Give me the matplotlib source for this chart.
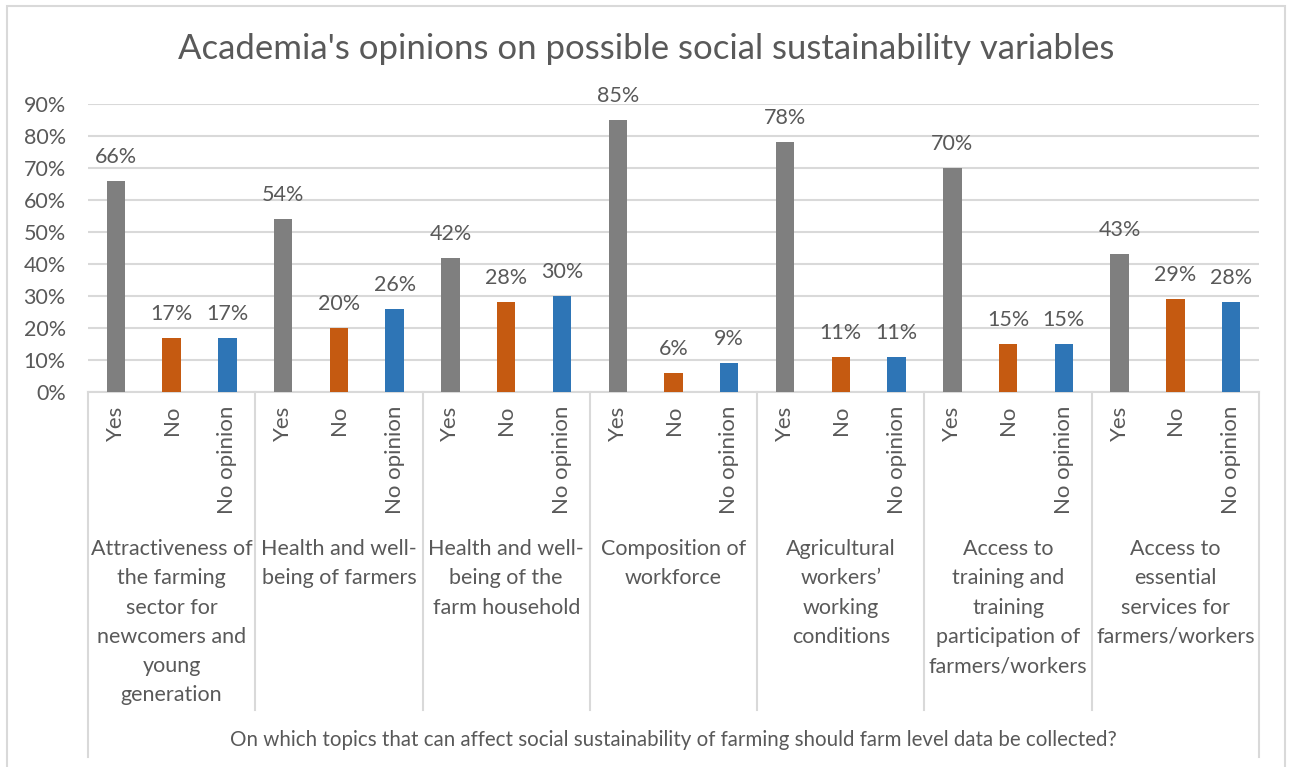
import matplotlib
matplotlib.use("Agg")
from matplotlib import pyplot as plt
from matplotlib import transforms
from matplotlib.patches import Rectangle

plt.rcParams['font.family'] = ['Lato', 'DejaVu Sans']

# data
title = "Academia's opinions on possible social sustainability variables"
axis_title = ("On which topics that can affect social sustainability of farming "
              "should farm level data be collected?")
topics = [
    "Attractiveness of\nthe farming\nsector for\nnewcomers and\nyoung\ngeneration",
    "Health and well-\nbeing of farmers",
    "Health and well-\nbeing of the\nfarm household",
    "Composition of\nworkforce",
    "Agricultural\nworkers\u2019\nworking\nconditions",
    "Access to\ntraining and\ntraining\nparticipation of\nfarmers/workers",
    "Access to\nessential\nservices for\nfarmers/workers",
]
answers = ["Yes", "No", "No opinion"]
yes_vals = [0.66, 0.54, 0.42, 0.85, 0.78, 0.70, 0.43]
no_vals = [0.17, 0.20, 0.28, 0.06, 0.11, 0.15, 0.29]
noop_vals = [0.17, 0.26, 0.30, 0.09, 0.11, 0.15, 0.28]

colors = ["#7f7f7f", "#c55a11", "#2e75b6"]
text_color = "#595959"
grid_color = "#d9d9d9"

W, H = 1296, 767
fig = plt.figure(figsize=(W / 100, H / 100), dpi=100)


def fy(py):
    return 1 - py / H


left, right, top, bottom = 88, 1259, 104, 392
ax = fig.add_axes([left / W, fy(bottom), (right - left) / W, (bottom - top) / H])

n_groups = len(topics)
series = [yes_vals, no_vals, noop_vals]
for k, vals in enumerate(series):
    xs = [g * 3 + k for g in range(n_groups)]
    ax.bar(xs, vals, width=0.33, color=colors[k], zorder=3)
    for x, v in zip(xs, vals):
        ax.annotate(f"{round(v * 100)}%", (x, v), xytext=(0, 13),
                    textcoords="offset points", ha="center", va="baseline",
                    fontsize=15.5, color=text_color, annotation_clip=False)

ax.set_xlim(-0.5, n_groups * 3 - 0.5)
ax.set_ylim(0, 0.9)
ax.set_yticks([i / 10 for i in range(10)])
ax.set_yticklabels([f"{i * 10}%" for i in range(10)], fontsize=15.5, color=text_color)
ax.tick_params(axis="y", length=0, pad=16)
ax.set_xticks([])
ax.grid(axis="y", color=grid_color, linewidth=1.5, zorder=0)
for s in ["top", "right", "left"]:
    ax.spines[s].set_visible(False)
ax.spines["bottom"].set_color(grid_color)
ax.spines["bottom"].set_linewidth(1.5)

trans = transforms.blended_transform_factory(ax.transData, fig.transFigure)

# answer labels (rotated) and topic labels
for g in range(n_groups):
    for k, a in enumerate(answers):
        ax.text(g * 3 + k, fy(406), a, transform=trans, rotation=90,
                ha="center", va="top", fontsize=16, color=text_color)
    ax.text(g * 3 + 1, fy(539), topics[g], transform=trans, ha="center",
            va="top", fontsize=15.5, color=text_color, linespacing=1.58)

# separators
for g in range(n_groups + 1):
    x = g * 3 - 0.5
    end = 757 if g in (0, n_groups) else 710
    ax.plot([x, x], [fy(bottom), fy(end)], transform=trans, color=grid_color,
            linewidth=1.5, clip_on=False)

fig.text((left + right) / 2 / W, fy(740), axis_title, ha="center", va="center",
         fontsize=14.8, color=text_color)
fig.text(646 / W, fy(49), title, ha="center", va="center",
         fontsize=25, color=text_color)

fig.patches.append(Rectangle((7 / W, -0.01), (1285 - 7) / W, fy(6) + 0.01,
                             transform=fig.transFigure, fill=False,
                             edgecolor=grid_color, linewidth=1.5))

fig.savefig("out.png", dpi=100)
